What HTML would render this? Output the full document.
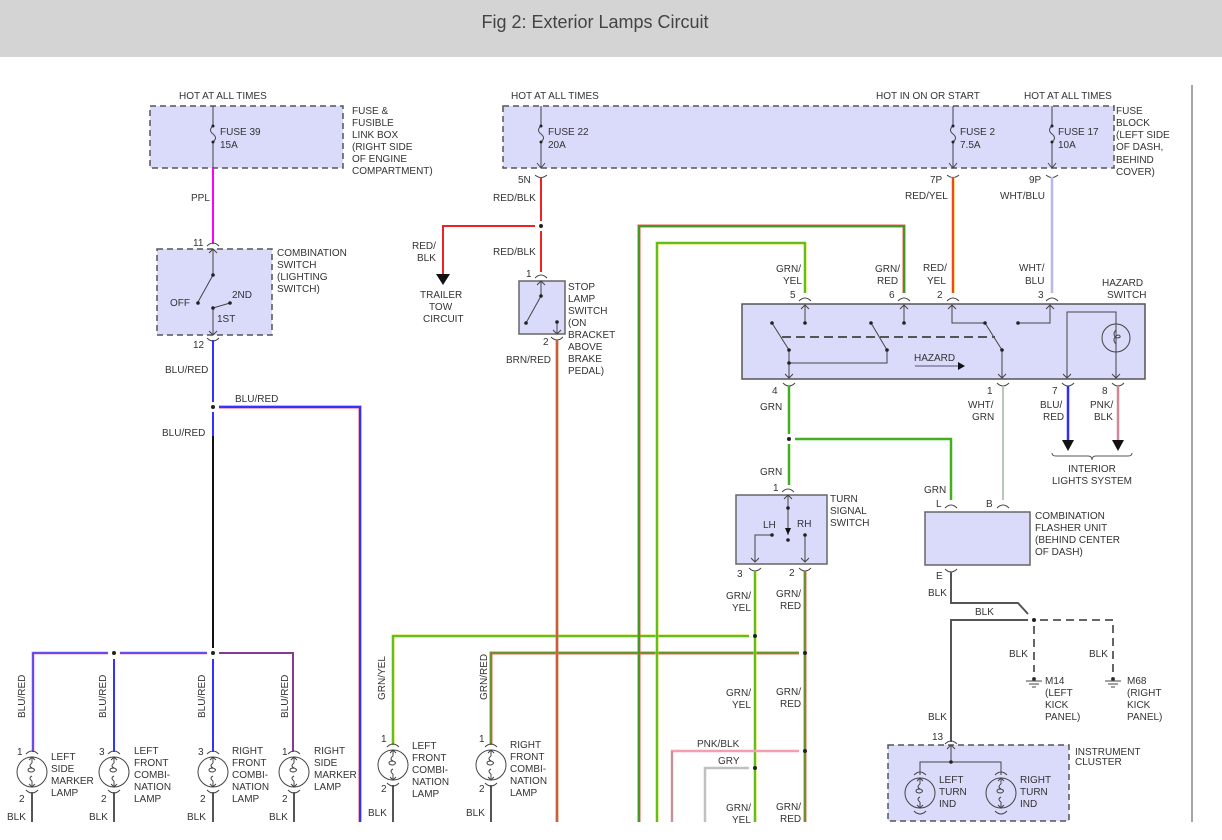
<!DOCTYPE html>
<html><head><meta charset="utf-8"><style>
html,body{margin:0;padding:0;background:#fff;}
svg{display:block;font-family:"Liberation Sans",sans-serif;font-size:10px;fill:#333;}
</style></head><body>
<svg width="1222" height="840" viewBox="0 0 1222 840" xmlns="http://www.w3.org/2000/svg">
<defs>
<g id="lamp" fill="none" stroke="#444" stroke-width="1">
<circle cx="0" cy="0" r="15"/>
<path d="M0,-15 v6 M0,9 v6 M-3,-12 L0,-15 L3,-12 M-3,12 L0,15 L3,12"/>
<path d="M0,-9 q-4,3 0,5 q5,2 0,4 q-4,0 -4,-2 q0,-2 4,-2 M0,4 q-4,2 0,5"/>
<path d="M-6,-18 q6,-6 12,0 M-6,18 q6,6 12,0"/>
</g>
<g id="gnd" stroke="#444" fill="none"><path d="M-8,0 h16 M-5,3 h10 M-2,6 h4"/><circle cx="0" cy="-2" r="1.5" fill="#222"/></g>
</defs>
<rect x="0" y="0" width="1222" height="57" fill="#d4d4d4"/>
<text x="595" y="28" text-anchor="middle" style="font-size:18px;fill:#444">Fig 2: Exterior Lamps Circuit</text>
<line x1="1192" y1="85" x2="1192" y2="822" stroke="#888" stroke-width="1.5"/>

<!-- fuse boxes -->
<rect x="150" y="106" width="193" height="62" fill="#dadafa" stroke="#555" stroke-dasharray="6,4" stroke-width="1.5"/>
<rect x="503" y="106" width="611" height="62" fill="#dadafa" stroke="#555" stroke-dasharray="6,4" stroke-width="1.5"/>
<g stroke="#444" fill="none">
<path d="M213,106 v20 q-5,4 0,8 q5,4 0,8 v26"/>
<path d="M541,106 v20 q-5,4 0,8 q5,4 0,8 v26 M537,163 l4,5 l4,-5"/>
<path d="M953,106 v20 q-5,4 0,8 q5,4 0,8 v26 M949,163 l4,5 l4,-5"/>
<path d="M1052,106 v20 q-5,4 0,8 q5,4 0,8 v26 M1048,163 l4,5 l4,-5"/>
<path d="M535,175 q6,5 12,0 M947,175 q6,5 12,0 M1046,175 q6,5 12,0"/>
</g>
<g fill="#222"><circle cx="213" cy="126" r="1.5"/><circle cx="213" cy="142" r="1.5"/><circle cx="541" cy="126" r="1.5"/><circle cx="541" cy="142" r="1.5"/><circle cx="953" cy="126" r="1.5"/><circle cx="953" cy="142" r="1.5"/><circle cx="1052" cy="126" r="1.5"/><circle cx="1052" cy="142" r="1.5"/></g>
<text x="179" y="99">HOT AT ALL TIMES</text>
<text x="220" y="135">FUSE 39</text><text x="220" y="148">15A</text>
<text x="352" y="114">FUSE &amp;</text><text x="352" y="126">FUSIBLE</text><text x="352" y="138">LINK BOX</text><text x="352" y="150">(RIGHT SIDE</text><text x="352" y="162">OF ENGINE</text><text x="352" y="174">COMPARTMENT)</text>
<text x="511" y="99">HOT AT ALL TIMES</text>
<text x="548" y="135">FUSE 22</text><text x="548" y="148">20A</text>
<text x="876" y="99">HOT IN ON OR START</text>
<text x="1024" y="99">HOT AT ALL TIMES</text>
<text x="960" y="135">FUSE 2</text><text x="960" y="148">7.5A</text>
<text x="1058" y="135">FUSE 17</text><text x="1058" y="148">10A</text>
<text x="1116" y="114">FUSE</text><text x="1116" y="126">BLOCK</text><text x="1116" y="138">(LEFT SIDE</text><text x="1116" y="150">OF DASH,</text><text x="1116" y="163">BEHIND</text><text x="1116" y="175">COVER)</text>
<text x="518" y="183">5N</text><text x="930" y="183">7P</text><text x="1029" y="183">9P</text>

<!-- PPL -->
<line x1="213" y1="168" x2="213" y2="244" stroke="#ff00ff" stroke-width="2"/>
<text x="191" y="201">PPL</text>
<!-- combination switch -->
<rect x="157" y="249" width="115" height="86" fill="#dadafa" stroke="#555" stroke-dasharray="6,4" stroke-width="1.5"/>
<g stroke="#444" fill="none">
<path d="M207,246 q6,-6 12,0 M207,338 q6,6 12,0"/>
<path d="M213,249 v26 L198,302 M209,253 l4,-4 l4,4"/>
<path d="M230,303 L213,308 v27 M209,331 l4,4 l4,-4"/>
</g>
<g fill="#222"><circle cx="213" cy="275" r="1.8"/><circle cx="198" cy="303" r="1.8"/><circle cx="230" cy="303" r="1.8"/><circle cx="213" cy="308" r="1.8"/></g>
<text x="193" y="246">11</text><text x="193" y="348">12</text>
<text x="170" y="306">OFF</text><text x="232" y="298">2ND</text><text x="217" y="322">1ST</text>
<text x="277" y="256">COMBINATION</text><text x="277" y="268">SWITCH</text><text x="277" y="280">(LIGHTING</text><text x="277" y="292">SWITCH)</text>

<!-- blu/red tree -->
<line x1="213" y1="340" x2="213" y2="402" stroke="#3333ff" stroke-width="2"/>
<line x1="213" y1="412" x2="213" y2="436" stroke="#3333ff" stroke-width="2"/>
<line x1="213" y1="436" x2="213" y2="648" stroke="#111" stroke-width="2"/>
<circle cx="213" cy="407" r="2" fill="#222"/>
<path d="M219,407 H360 V822" fill="none" stroke="#e05070" stroke-width="3"/>
<path d="M219,407 H360 V822" fill="none" stroke="#3333ff" stroke-width="2"/>
<text x="165" y="373">BLU/RED</text><text x="235" y="402">BLU/RED</text><text x="162" y="436">BLU/RED</text>
<path d="M33,752 V653 H108 M120,653 H207" fill="none" stroke="#f0a0b0" stroke-width="3"/>
<path d="M33,752 V653 H108 M120,653 H207" fill="none" stroke="#3333ff" stroke-width="1.5"/>
<path d="M219,653 H293 V752" fill="none" stroke="#d04070" stroke-width="2"/>
<path d="M219,653 H293 V752" fill="none" stroke="#4030c0" stroke-width="1"/>
<line x1="114" y1="659" x2="114" y2="752" stroke="#3333ff" stroke-width="2"/>
<line x1="213" y1="659" x2="213" y2="752" stroke="#3333ff" stroke-width="2"/>
<circle cx="114" cy="653" r="2" fill="#222"/><circle cx="213" cy="653" r="2" fill="#222"/>
<g transform="rotate(-90)">
<text x="-718" y="25">BLU/RED</text><text x="-718" y="106">BLU/RED</text><text x="-718" y="205">BLU/RED</text><text x="-718" y="288">BLU/RED</text>
<text x="-700" y="385">GRN/YEL</text><text x="-700" y="487">GRN/RED</text>
</g>
<use href="#lamp" x="32" y="772"/><use href="#lamp" x="114" y="772"/><use href="#lamp" x="213" y="772"/><use href="#lamp" x="294" y="772"/>
<g stroke="#555" stroke-width="2"><line x1="32" y1="792" x2="32" y2="822"/><line x1="114" y1="792" x2="114" y2="822"/><line x1="213" y1="792" x2="213" y2="822"/><line x1="294" y1="792" x2="294" y2="822"/><line x1="393" y1="785" x2="393" y2="822"/><line x1="491" y1="785" x2="491" y2="822"/></g>
<text x="17" y="755">1</text><text x="99" y="755">3</text><text x="198" y="755">3</text><text x="282" y="755">1</text>
<text x="19" y="802">2</text><text x="101" y="802">2</text><text x="200" y="802">2</text><text x="282" y="802">2</text>
<text x="7" y="820">BLK</text><text x="89" y="820">BLK</text><text x="187" y="820">BLK</text><text x="269" y="820">BLK</text>
<text x="51" y="760">LEFT</text><text x="51" y="772">SIDE</text><text x="51" y="784">MARKER</text><text x="51" y="796">LAMP</text>
<text x="134" y="754">LEFT</text><text x="134" y="766">FRONT</text><text x="134" y="778">COMBI-</text><text x="134" y="790">NATION</text><text x="134" y="802">LAMP</text>
<text x="232" y="754">RIGHT</text><text x="232" y="766">FRONT</text><text x="232" y="778">COMBI-</text><text x="232" y="790">NATION</text><text x="232" y="802">LAMP</text>
<text x="314" y="754">RIGHT</text><text x="314" y="766">SIDE</text><text x="314" y="778">MARKER</text><text x="314" y="790">LAMP</text>

<!-- right front lamps -->
<path d="M393,745 V636 H749" fill="none" stroke="#c8e030" stroke-width="3"/>
<path d="M393,745 V636 H749" fill="none" stroke="#40b020" stroke-width="1.5"/>
<path d="M491,745 V653 H799" fill="none" stroke="#e07050" stroke-width="3"/>
<path d="M491,745 V653 H799" fill="none" stroke="#40a020" stroke-width="1.5"/>
<use href="#lamp" x="393" y="765"/><use href="#lamp" x="491" y="765"/>
<text x="381" y="742">1</text><text x="479" y="742">1</text><text x="381" y="792">2</text><text x="479" y="792">2</text>
<text x="368" y="816">BLK</text><text x="466" y="816">BLK</text>
<text x="412" y="749">LEFT</text><text x="412" y="761">FRONT</text><text x="412" y="773">COMBI-</text><text x="412" y="785">NATION</text><text x="412" y="797">LAMP</text>
<text x="510" y="748">RIGHT</text><text x="510" y="760">FRONT</text><text x="510" y="772">COMBI-</text><text x="510" y="784">NATION</text><text x="510" y="796">LAMP</text>

<!-- red/blk & stop switch -->
<line x1="541" y1="177" x2="541" y2="221" stroke="#ee2222" stroke-width="2"/>
<line x1="541" y1="231" x2="541" y2="272" stroke="#ee2222" stroke-width="2"/>
<circle cx="541" cy="226" r="2" fill="#222"/>
<path d="M535,226 H443 V274" fill="none" stroke="#ee2222" stroke-width="2"/>
<path d="M436,274 h14 l-7,11 z" fill="#111"/>
<text x="493" y="201">RED/BLK</text><text x="493" y="255">RED/BLK</text>
<text x="412" y="249">RED/</text><text x="417" y="261">BLK</text>
<text x="420" y="298">TRAILER</text><text x="429" y="310">TOW</text><text x="423" y="322">CIRCUIT</text>
<rect x="519" y="281" width="46" height="53" fill="#dadafa" stroke="#666" stroke-width="1.5"/>
<g stroke="#444" fill="none"><path d="M535,278 q6,-6 12,0 M551,337 q6,6 12,0"/><path d="M541,281 v15 L526,323 M537,285 l4,-4 l4,4 M557,322 v12 M553,330 l4,4 l4,-4"/></g>
<g fill="#222"><circle cx="541" cy="296" r="1.8"/><circle cx="526" cy="323" r="1.8"/><circle cx="557" cy="322" r="1.8"/></g>
<text x="526" y="277">1</text><text x="543" y="345">2</text>
<text x="568" y="290">STOP</text><text x="568" y="302">LAMP</text><text x="568" y="314">SWITCH</text><text x="568" y="326">(ON</text><text x="568" y="338">BRACKET</text><text x="568" y="350">ABOVE</text><text x="568" y="362">BRAKE</text><text x="568" y="374">PEDAL)</text>
<text x="506" y="363">BRN/RED</text>
<line x1="557" y1="340" x2="557" y2="822" stroke="#d09060" stroke-width="3"/>
<line x1="557" y1="340" x2="557" y2="822" stroke="#c03020" stroke-width="1"/>

<!-- hazard feed wires -->
<line x1="953" y1="177" x2="953" y2="293" stroke="#f0c020" stroke-width="3"/>
<line x1="953" y1="177" x2="953" y2="293" stroke="#ee2020" stroke-width="1.5"/>
<line x1="1052" y1="177" x2="1052" y2="293" stroke="#b8b8ee" stroke-width="2.5"/>
<text x="905" y="199">RED/YEL</text><text x="1000" y="199">WHT/BLU</text>
<path d="M639,822 V226 H904 V293" fill="none" stroke="#e06050" stroke-width="3"/>
<path d="M639,822 V226 H904 V293" fill="none" stroke="#30a020" stroke-width="1.8"/>
<path d="M657,822 V243 H805 V293" fill="none" stroke="#c8e030" stroke-width="3"/>
<path d="M657,822 V243 H805 V293" fill="none" stroke="#40b020" stroke-width="1.5"/>
<text x="776" y="272">GRN/</text><text x="783" y="284">YEL</text>
<text x="875" y="272">GRN/</text><text x="877" y="284">RED</text>
<text x="923" y="271">RED/</text><text x="927" y="284">YEL</text>
<text x="1019" y="271">WHT/</text><text x="1025" y="284">BLU</text>
<text x="1102" y="286">HAZARD</text><text x="1107" y="298">SWITCH</text>
<text x="790" y="298">5</text><text x="889" y="298">6</text><text x="937" y="298">2</text><text x="1038" y="298">3</text>

<!-- hazard switch -->
<rect x="742" y="304" width="403" height="75" fill="#dadafa" stroke="#555" stroke-width="1.5"/>
<g stroke="#444" fill="none">
<path d="M799,301 q6,-6 12,0 M898,301 q6,-6 12,0 M947,301 q6,-6 12,0 M1046,301 q6,-6 12,0"/>
<path d="M783,383 q6,6 12,0 M997,383 q6,6 12,0 M1062,383 q6,6 12,0 M1112,383 q6,6 12,0"/>
<path d="M805,323 V305 M801,309 l4,-4 l4,4 M904,323 V305 M900,309 l4,-4 l4,4"/>
<path d="M772,323 L789,350 V378 M785,374 l4,4 l4,-4 M789,363 H887 V350 M871,323 L887,350"/>
<path d="M952,305 V323 H985 L1002,350 V378 M998,374 l4,4 l4,-4 M948,309 l4,-4 l4,4"/>
<path d="M1018,323 H1050 V305 M1046,309 l4,-4 l4,4"/>
<path d="M1067,378 V312 H1116 V378 M1063,374 l4,4 l4,-4 M1112,374 l4,4 l4,-4"/>
<circle cx="1116" cy="338" r="14"/>
<path d="M1116,330 q-4,4 0,8 q5,0 4,-2 q-1,-2 -4,0 q-4,4 0,8"/>
<path d="M782,337 H995" stroke="#555" stroke-width="2" stroke-dasharray="9,5"/>
<path d="M915,366 H958" stroke="#8080a0" stroke-width="1.5"/>
</g>
<path d="M958,362 l7,4 l-7,4 z" fill="#111"/>
<g fill="#222"><circle cx="772" cy="323" r="1.8"/><circle cx="789" cy="350" r="1.8"/><circle cx="789" cy="363" r="1.8"/><circle cx="871" cy="323" r="1.8"/><circle cx="887" cy="350" r="1.8"/><circle cx="805" cy="323" r="1.8"/><circle cx="904" cy="323" r="1.8"/><circle cx="985" cy="323" r="1.8"/><circle cx="1002" cy="350" r="1.8"/><circle cx="1018" cy="323" r="1.8"/></g>
<text x="914" y="361">HAZARD</text>
<text x="772" y="394">4</text><text x="987" y="394">1</text><text x="1052" y="394">7</text><text x="1102" y="394">8</text>

<!-- hazard outputs -->
<line x1="789" y1="386" x2="789" y2="434" stroke="#40b020" stroke-width="2.5"/>
<line x1="789" y1="444" x2="789" y2="485" stroke="#40b020" stroke-width="2.5"/>
<circle cx="789" cy="439" r="2" fill="#222"/>
<path d="M795,439 H951 V500" fill="none" stroke="#40b020" stroke-width="2.5"/>
<text x="760" y="410">GRN</text><text x="760" y="475">GRN</text><text x="924" y="493">GRN</text>
<line x1="1003" y1="386" x2="1003" y2="500" stroke="#b8c8b8" stroke-width="2"/>
<text x="968" y="408">WHT/</text><text x="972" y="420">GRN</text>
<line x1="1068" y1="386" x2="1068" y2="440" stroke="#3030ee" stroke-width="2.5"/>
<line x1="1118" y1="386" x2="1118" y2="440" stroke="#d08898" stroke-width="2.5"/>
<path d="M1062,440 h12 l-6,11 z M1112,440 h12 l-6,11 z" fill="#111"/>
<text x="1040" y="408">BLU/</text><text x="1043" y="420">RED</text>
<text x="1090" y="408">PNK/</text><text x="1094" y="420">BLK</text>
<path d="M1052,453 q0,3 4,3 h32 q4,0 4,4 q0,-4 4,-4 h32 q4,0 4,-3" fill="none" stroke="#555"/>
<text x="1092" y="472" text-anchor="middle">INTERIOR</text><text x="1092" y="484" text-anchor="middle">LIGHTS SYSTEM</text>

<!-- turn signal switch -->
<rect x="736" y="495" width="91" height="69" fill="#dadafa" stroke="#666" stroke-width="1.5"/>
<g stroke="#444" fill="none">
<path d="M782,492 q6,-6 12,0 M749,568 q6,6 12,0 M799,568 q6,6 12,0"/>
<path d="M788,495 v12 M784,499 l4,-4 l4,4 M788,508 V535 M772,535 H755 V562 M751,558 l4,4 l4,-4 M805,535 V562 M801,558 l4,4 l4,-4"/>
</g>
<path d="M785,528 l3,7 l3,-7 z" fill="#111"/>
<g fill="#222"><circle cx="788" cy="508" r="1.8"/><circle cx="788" cy="540" r="1.8"/><circle cx="772" cy="535" r="1.8"/><circle cx="805" cy="535" r="1.8"/></g>
<text x="773" y="491">1</text><text x="763" y="528">LH</text><text x="797" y="527">RH</text>
<text x="830" y="502">TURN</text><text x="830" y="514">SIGNAL</text><text x="830" y="526">SWITCH</text>
<text x="737" y="577">3</text><text x="789" y="576">2</text>
<line x1="755" y1="571" x2="755" y2="822" stroke="#c8e030" stroke-width="3"/>
<line x1="755" y1="571" x2="755" y2="822" stroke="#40b020" stroke-width="1.5"/>
<line x1="805" y1="571" x2="805" y2="822" stroke="#e07050" stroke-width="3"/>
<line x1="805" y1="571" x2="805" y2="822" stroke="#40a020" stroke-width="1.5"/>
<path d="M672,822 V751 H799" fill="none" stroke="#f0a0b0" stroke-width="2.5"/>
<path d="M672,822 V751" fill="none" stroke="#888" stroke-width="1"/>
<path d="M705,822 V768 H749" fill="none" stroke="#c0c0c0" stroke-width="2.5"/>
<g fill="#222"><circle cx="755" cy="636" r="2"/><circle cx="805" cy="653" r="2"/><circle cx="805" cy="751" r="2"/><circle cx="755" cy="768" r="2"/></g>
<text x="726" y="599">GRN/</text><text x="732" y="611">YEL</text>
<text x="776" y="597">GRN/</text><text x="780" y="609">RED</text>
<text x="726" y="696">GRN/</text><text x="732" y="708">YEL</text>
<text x="776" y="695">GRN/</text><text x="780" y="707">RED</text>
<text x="697" y="747">PNK/BLK</text><text x="718" y="764">GRY</text>
<text x="726" y="811">GRN/</text><text x="732" y="823">YEL</text>
<text x="776" y="810">GRN/</text><text x="780" y="822">RED</text>

<!-- flasher -->
<rect x="925" y="512" width="105" height="53" fill="#dadafa" stroke="#666" stroke-width="1.5"/>
<g stroke="#444" fill="none"><path d="M945,508 q6,-6 12,0 M997,508 q6,-6 12,0 M945,569 q6,6 12,0"/></g>
<text x="936" y="507">L</text><text x="986" y="507">B</text><text x="936" y="579">E</text>
<text x="1035" y="519">COMBINATION</text><text x="1035" y="531">FLASHER UNIT</text><text x="1035" y="543">(BEHIND CENTER</text><text x="1035" y="555">OF DASH)</text>
<path d="M951,572 V603 H1018 L1028,614" fill="none" stroke="#555" stroke-width="2"/>
<path d="M1028,620 H951 V742" fill="none" stroke="#555" stroke-width="2"/>
<circle cx="1034" cy="620" r="2" fill="#222"/>
<path d="M1040,620 H1113 V672 M1034,626 V672" fill="none" stroke="#666" stroke-width="2" stroke-dasharray="8,5"/>
<use href="#gnd" x="1034" y="681"/><use href="#gnd" x="1113" y="681"/>
<text x="928" y="596">BLK</text><text x="975" y="615">BLK</text>
<text x="1009" y="657">BLK</text><text x="1089" y="657">BLK</text>
<text x="928" y="720">BLK</text>
<text x="1045" y="684">M14</text><text x="1045" y="696">(LEFT</text><text x="1045" y="708">KICK</text><text x="1045" y="720">PANEL)</text>
<text x="1127" y="684">M68</text><text x="1127" y="696">(RIGHT</text><text x="1127" y="708">KICK</text><text x="1127" y="720">PANEL)</text>
<text x="932" y="740">13</text>
<!-- instrument cluster -->
<rect x="888" y="745" width="181" height="76" fill="#dadafa" stroke="#555" stroke-dasharray="6,4" stroke-width="1.5"/>
<g stroke="#444" fill="none"><path d="M945,744 q6,-6 12,0 M951,745 V762 M947,749 l4,-4 l4,4 M920,775 V762 H1001 V775"/></g>
<circle cx="951" cy="762" r="1.8" fill="#222"/>
<use href="#lamp" x="920" y="793"/><use href="#lamp" x="1001" y="793"/>
<text x="939" y="783">LEFT</text><text x="939" y="795">TURN</text><text x="939" y="807">IND</text>
<text x="1020" y="783">RIGHT</text><text x="1020" y="795">TURN</text><text x="1020" y="807">IND</text>
<text x="1075" y="755">INSTRUMENT</text><text x="1075" y="765">CLUSTER</text>
</svg>
</body></html>
